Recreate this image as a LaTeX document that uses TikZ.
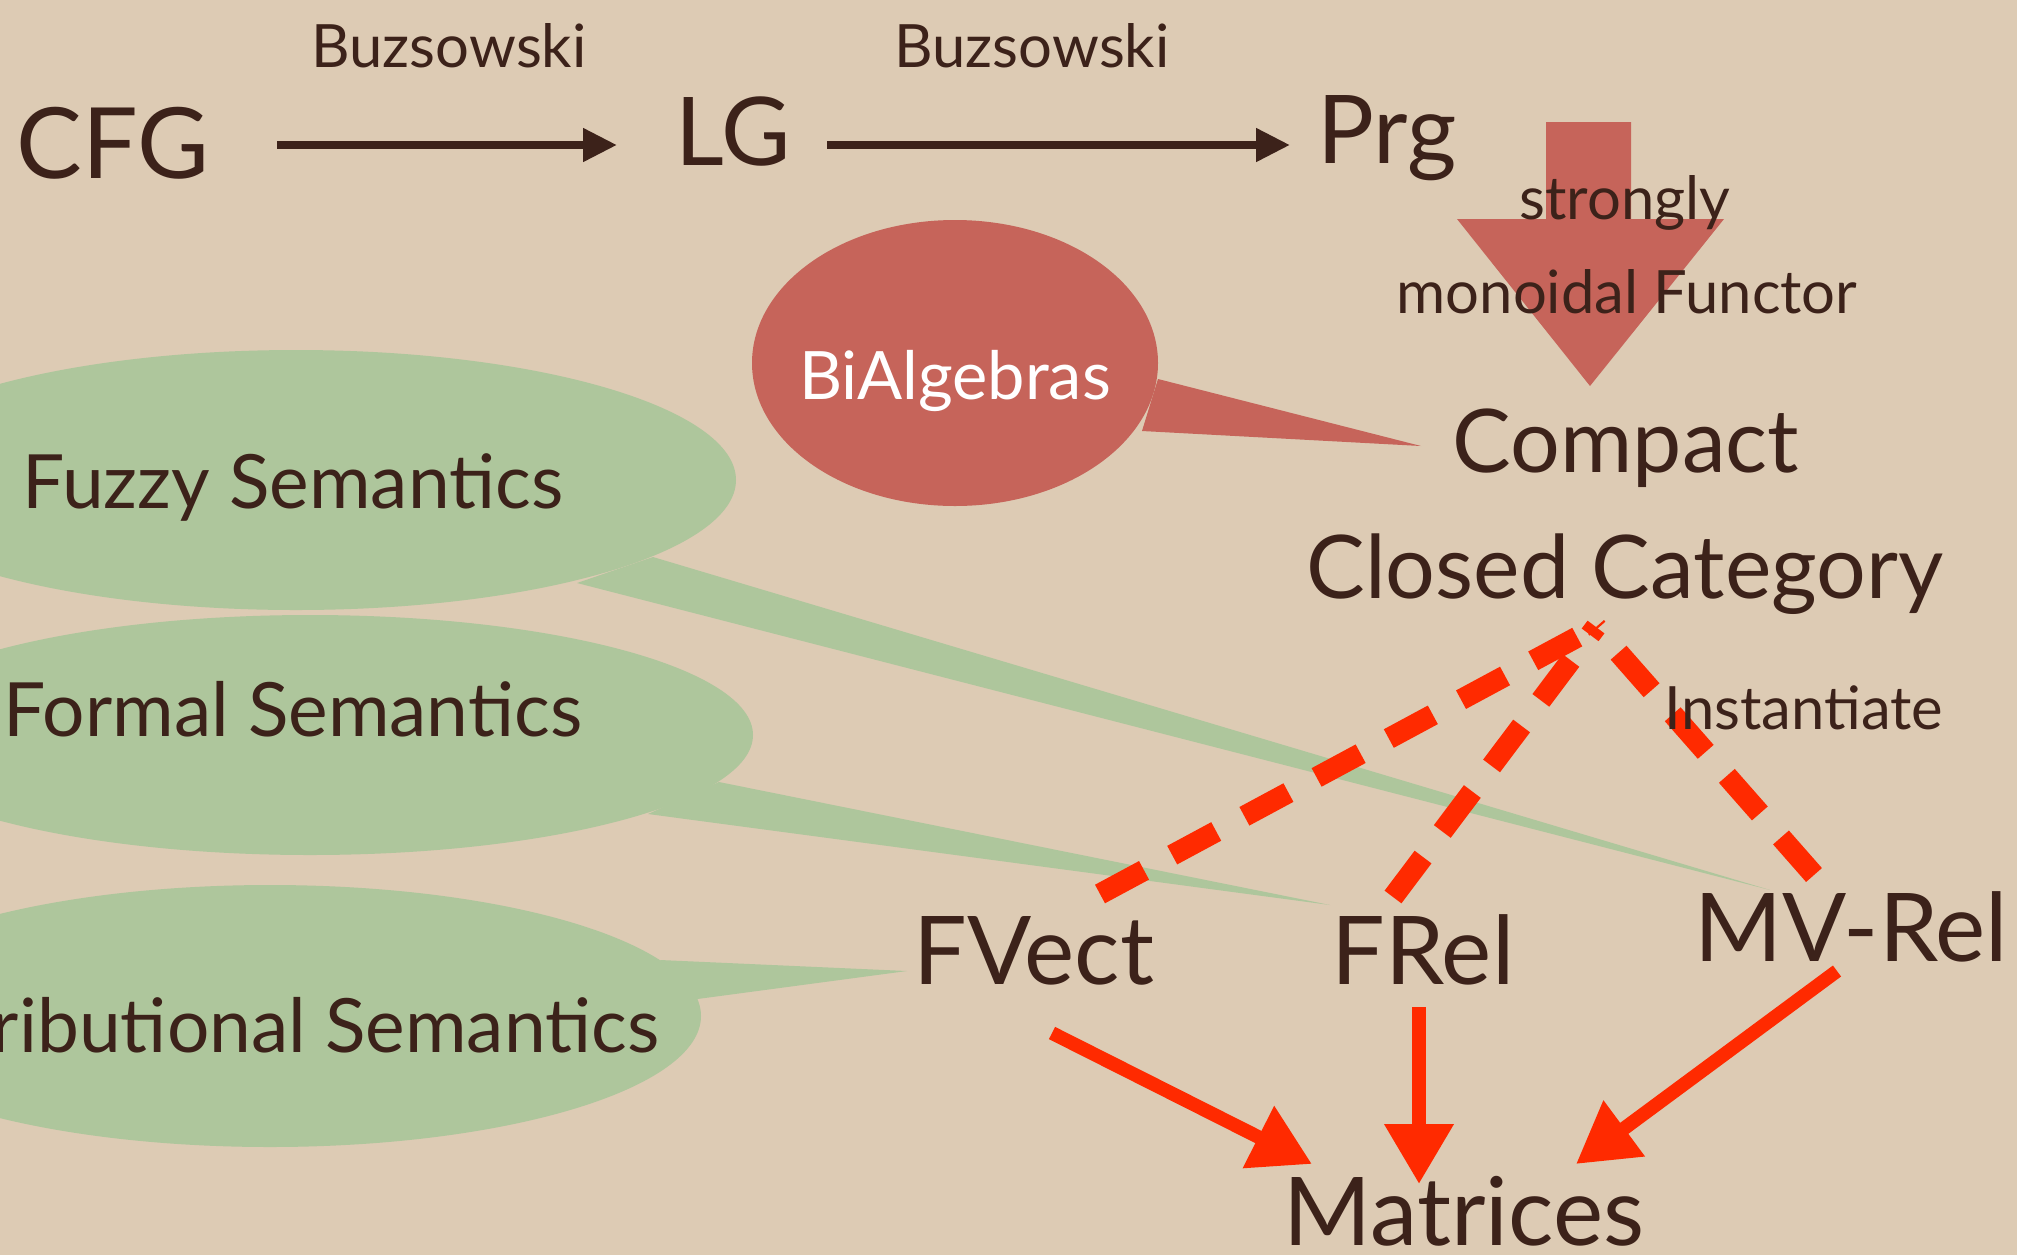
\documentclass[tikz,border=0pt]{standalone}
\usepackage{fontspec}
\setmainfont{Lato}
\usetikzlibrary{arrows.meta,calc}
\definecolor{paper}{RGB}{221,203,180}
\definecolor{ink}{RGB}{60,34,26}
\definecolor{bubblered}{RGB}{198,100,90}
\definecolor{bubblegreen}{RGB}{174,198,156}
\definecolor{brightred}{RGB}{255,42,0}
\pgfdeclarelayer{back}
\pgfdeclarelayer{mid}
\pgfsetlayers{back,mid,main}
\begin{document}
\begin{tikzpicture}[
  txt/.style={text=ink, inner sep=0pt, anchor=base},
  hugetxt/.style={txt, font=\fontsize{27}{27}\selectfont},
  bigtxt/.style={txt, font=\fontsize{25}{25}\selectfont},
  midtxt/.style={txt, font=\fontsize{21.3}{21.3}\selectfont},
  smalltxt/.style={txt, font=\fontsize{17}{17}\selectfont},
  toparrow/.style={draw=ink, line width=2.2pt, -{Triangle[length=0.34cm,width=0.32cm]}},
  redarrow/.style={draw=brightred, line width=3.9pt, -{Triangle[length=0.6cm,width=0.66cm]}},
  dashline/.style={draw=brightred, line width=6pt, dash pattern=on 0.5cm off 0.32cm},
  greenbubble/.style={fill=bubblegreen},
  redbubble/.style={fill=bubblered},
]
\useasboundingbox (0,0) rectangle (20.17,-12.55);
\clip (0,0) rectangle (20.17,-12.55);

% text nodes
\node[smalltxt] (buz1) at (4.49,-0.67) {Buzsowski};
\node[smalltxt] (buz2) at (10.32,-0.67) {Buzsowski};
\node[txt, font=\fontsize{28}{28}\selectfont] (CFG) at (1.13,-1.78) {CFG};
\node[hugetxt] (LG) at (7.33,-1.65) {LG};
\node[hugetxt] (Prg) at (13.87,-1.63) {Prg};
\node[smalltxt] (strongly) at (16.25,-2.19) {strongly};
\node[smalltxt] (functor) at (16.27,-3.13) {monoidal Functor};
\node[bigtxt] (compact) at (16.26,-4.72) {Compact};
\node[bigtxt] (closed) at (16.25,-5.98) {Closed Category};
\node[txt, text=white, font=\fontsize{19}{19}\selectfont] (bialg) at (9.55,-3.99) {BiAlgebras};
\node[midtxt] (fuzzy) at (2.93,-5.08) {Fuzzy Semantics};
\node[midtxt] (formal) at (2.93,-7.36) {Formal Semantics};
\node[midtxt, anchor=base east] (distrib) at (6.60,-10.52) {Distributional Semantics};
\node[smalltxt] (inst) at (18.04,-7.29) {Instantiate};
\node[hugetxt] (fvect) at (10.34,-9.84) {FVect};
\node[hugetxt] (frel) at (14.23,-9.84) {FRel};
\node[hugetxt] (mvrel) at (18.51,-9.61) {MV-Rel};
\node[hugetxt] (matrices) at (14.64,-12.45) {Matrices};

\begin{pgfonlayer}{back}
  \fill[paper] (0,0) rectangle (20.17,-12.55);
  % green bubbles
  \fill[greenbubble] (2.96,-4.80) ellipse [x radius=4.40, y radius=1.30];
  \fill[greenbubble] (6.53,-5.57) -- (5.77,-5.83) -- (17.70,-8.90) -- cycle;
  \fill[greenbubble] (3.10,-7.35) ellipse [x radius=4.43, y radius=1.20];
  \fill[greenbubble] (7.19,-7.82) -- (6.48,-8.14) -- (13.30,-9.05) -- cycle;
  \fill[greenbubble] (2.70,-10.16) ellipse [x radius=4.31, y radius=1.31];
  \fill[greenbubble] (6.60,-9.60) -- (6.90,-10.00) -- (9.07,-9.71) -- cycle;
  % red bubble
  \fill[redbubble] (9.55,-3.63) ellipse [x radius=2.03, y radius=1.43];
  \fill[redbubble] (11.58,-3.79) -- (11.42,-4.31) -- (14.21,-4.46) -- cycle;
  % big functor arrow
  \fill[bubblered] (15.46,-1.22) -- (16.31,-1.22) -- (16.31,-2.19) -- (17.24,-2.19)
    -- (15.90,-3.86) -- (14.57,-2.19) -- (15.46,-2.19) -- cycle;
\end{pgfonlayer}

\begin{pgfonlayer}{mid}
  \draw[toparrow] ($(CFG.base)+(1.64,0.33)$) -- ($(LG.base)+(-1.16,0.20)$);
  \draw[toparrow] ($(LG.base)+(0.94,0.20)$) -- ($(Prg.base)+(-0.97,0.18)$);
  \coordinate (apex) at ($(closed.base)+(-0.29,-0.29)$);
  \draw[dashline] ($(fvect.base)+(0.66,0.90)$) -- (apex);
  \draw[dashline] ($(frel.base)+(-0.30,0.87)$) -- (apex);
  \draw[dashline] ($(mvrel.base)+(-0.37,0.86)$) -- (apex);
  \draw[redarrow] ($(fvect.base)+(0.18,-0.49)$) -- ($(matrices.base)+(-1.52,0.81)$);
  \draw[redarrow] ($(frel.base)+(-0.04,-0.23)$) -- ($(matrices.base)+(-0.45,0.61)$);
  \draw[redarrow] ($(mvrel.base)+(-0.14,-0.10)$) -- ($(matrices.base)+(1.12,0.81)$);
\end{pgfonlayer}
\end{tikzpicture}
\end{document}
